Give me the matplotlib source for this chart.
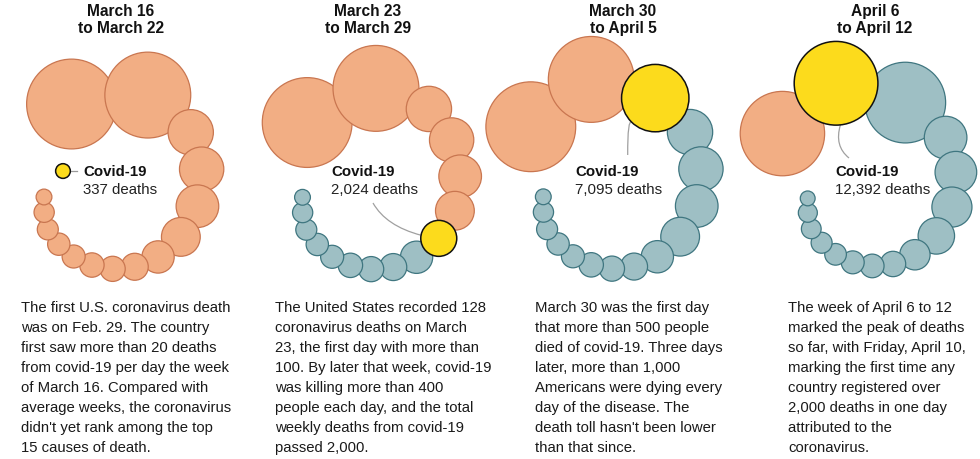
import numpy as np
import matplotlib
matplotlib.use("Agg")
import matplotlib.pyplot as plt
from matplotlib.patches import Circle, PathPatch
from matplotlib.path import Path

# average weekly deaths of the 15 leading causes (smallest first)
causes = ["Pneumonitis", "Parkinson's", "Hypertension", "Septicemia", "Liver disease",
          "Suicide", "Kidney disease", "Flu and pneumonia", "Diabetes", "Alzheimer's",
          "Stroke", "Lung disease", "Accidents", "Cancer", "Heart disease"]
weekly_deaths = [390, 640, 690, 780, 830, 930, 990, 1140, 1630, 2350,
                 2840, 3070, 3210, 11520, 12600]

weeks = ["March 16\nto March 22", "March 23\nto March 29",
         "March 30\nto April 5", "April 6\nto April 12"]
covid_deaths = [337, 2024, 7095, 12392]
covid_labels = ["337 deaths", "2,024 deaths", "7,095 deaths", "12,392 deaths"]

blurbs = [
    ["The first U.S. coronavirus death", "was on Feb. 29. The country",
     "first saw more than 20 deaths", "from covid-19 per day the week",
     "of March 16. Compared with", "average weeks, the coronavirus",
     "didn't yet rank among the top", "15 causes of death."],
    ["The United States recorded 128", "coronavirus deaths on March",
     "23, the first day with more than", "100. By later that week, covid-19",
     "was killing more than 400", "people each day, and the total",
     "weekly deaths from covid-19", "passed 2,000."],
    ["March 30 was the first day", "that more than 500 people",
     "died of covid-19. Three days", "later, more than 1,000",
     "Americans were dying every", "day of the disease. The",
     "death toll hasn't been lower", "than that since."],
    ["The week of April 6 to 12", "marked the peak of deaths",
     "so far, with Friday, April 10,", "marking the first time any",
     "country registered over", "2,000 deaths in one day",
     "attributed to the", "coronavirus."],
]

# layout
scale = [0.40, 0.40, 0.40, 0.376]
tail_xy = [(44.0, 197.0), (302.5, 197.3), (543.3, 196.8), (807.7, 198.4)]
title_x = [121, 368, 623, 875]
text_x = [21, 275, 535, 788]
label_x = [83, 331, 575, 835]
lead_start = [None, (373, 203), (627.7, 155), (849, 158)]
lead_ctrl = [None, (386, 226), (627.5, 118), (834, 146)]
lead_angle = [None, 190, 134, 84]

# spiral shape
F0, F1 = 0.8413, 0.0150          # overlap of neighbours
A, B = 146.95, 1.7012            # curl radius
H0 = 89.45                       # heading at the tail
BETA, FIN, MID, T1, T2 = -0.2302, 1.7427, 1.0275, 1.0604, 1.8211

ORANGE, ORANGE_E = "#f2ae84", "#c97650"
TEAL, TEAL_E = "#9ebfc4", "#3f7680"
YELLOW = "#fcdb1c"
FONT = "Liberation Sans"


def spiral(radii, k, x0, y0):
    # chain of overlapping circles curling round, smallest at the tail
    h = np.radians(H0)
    n = len(radii)
    links = [(F0 + F1 * (radii[i] + radii[i + 1]) / k / 100) * (radii[i] + radii[i + 1])
             for i in range(n - 1)]
    x, y = x0, y0
    pts = [(x, y)]
    for i, L in enumerate(links):
        if i > 0:
            r = radii[i]
            bend = (links[i - 1] + L) / 2 / (A * k + B * r)
            if radii[i + 1] < 1.5 * r and r > 45 * k:
                bend *= MID
            if i == n - 2:
                bend *= FIN
            if i == 1:
                bend *= T1
            if i == 2:
                bend *= T2
            bend += BETA * ((r - radii[i - 1]) / links[i - 1] - (radii[i + 1] - r) / L)
            h -= bend
        x += L * np.cos(h)
        y += L * np.sin(h)
        pts.append((x, y))
    return pts


fig = plt.figure(figsize=(9.8, 4.59), dpi=100)
ax = fig.add_axes([0, 0, 1, 1])
ax.set_xlim(0, 980)
ax.set_ylim(459, 0)
ax.axis("off")

for p in range(4):
    k = scale[p]
    cov = covid_deaths[p]
    vals = sorted(weekly_deaths + ([cov] if cov > min(weekly_deaths) else []))
    radii = [k * np.sqrt(v) for v in vals]
    x0, y0 = tail_xy[p]
    pts = spiral(radii, k, x0, y0)

    cov_xy, cov_r = None, k * np.sqrt(cov)
    n = len(vals)
    for i in range(n - 1, -1, -1):
        v = vals[i]
        if v == cov:
            cov_xy = pts[i]
            continue
        fc, ec = (ORANGE, ORANGE_E) if v > cov else (TEAL, TEAL_E)
        ax.add_patch(Circle(pts[i], radii[i], fc=fc, ec=ec, lw=0.9, zorder=2 + (n - i)))

    if cov_xy is None:
        # not in the top 15: sits apart, just ahead of the tail
        ang = np.radians(H0 + 180 + 36.7)
        d = 2.11 * (radii[0] + cov_r)
        cov_xy = (x0 + d * np.cos(ang), y0 + d * np.sin(ang))
        ax.plot([cov_xy[0] + cov_r + 1, cov_xy[0] + cov_r + 7], [cov_xy[1], cov_xy[1]],
                color="#9a9a9a", lw=0.9, zorder=1)
    else:
        a = np.radians(lead_angle[p])
        end = (cov_xy[0] + cov_r * np.cos(a), cov_xy[1] + cov_r * np.sin(a))
        path = Path([lead_start[p], lead_ctrl[p], end], [Path.MOVETO, Path.CURVE3, Path.CURVE3])
        ax.add_patch(PathPatch(path, fc="none", ec="#a0a0a0", lw=0.9, zorder=1))
    ax.add_patch(Circle(cov_xy, cov_r, fc=YELLOW, ec="#111111", lw=1.1, zorder=40))

    ax.text(label_x[p], 176, "Covid-19", fontsize=10.8, fontweight="bold", family=FONT,
            color="#111111", va="baseline", zorder=50)
    ax.text(label_x[p], 194, covid_labels[p], fontsize=10.8, family=FONT,
            color="#222222", va="baseline", zorder=50)

    t1, t2 = weeks[p].split("\n")
    ax.text(title_x[p], 16, t1, fontsize=11.2, fontweight="bold", family=FONT,
            color="#111111", ha="center", va="baseline")
    ax.text(title_x[p], 33.3, t2, fontsize=11.2, fontweight="bold", family=FONT,
            color="#111111", ha="center", va="baseline")

    for j, line in enumerate(blurbs[p]):
        ax.text(text_x[p], 311.7 + 20 * j, line, fontsize=10.7, family=FONT,
                color="#1a1a1a", va="baseline")

fig.savefig("out.png", dpi=100)
